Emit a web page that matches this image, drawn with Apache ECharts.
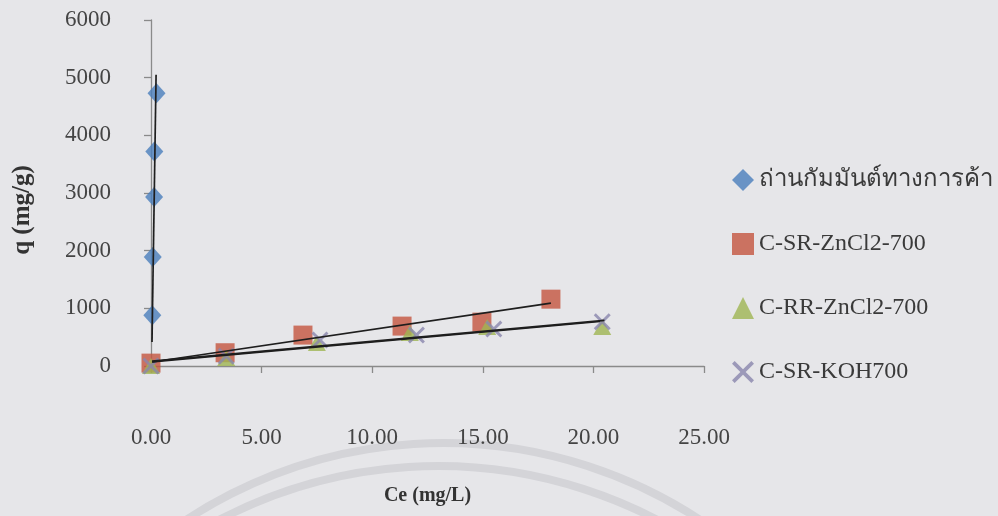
<!DOCTYPE html>
<html>
<head>
<meta charset="utf-8">
<script src="https://cdn.jsdelivr.net/npm/echarts@6/dist/echarts.min.js"></script>
<style>
html,body{margin:0;padding:0;background:#e6e6e9;}
#chart{width:998px;height:516px;}
</style>
</head>
<body>
<div id="chart"></div>
<script>
// ---- data ----
const seriesNames = ['ถ่านกัมมันต์ทางการค้า', 'C-SR-ZnCl2-700', 'C-RR-ZnCl2-700', 'C-SR-KOH700'];
const xTicks = [0, 5, 10, 15, 20, 25];
const yTicks = [0, 1000, 2000, 3000, 4000, 5000, 6000];

const commercialCe = [0.06, 0.08, 0.14, 0.15, 0.25];
const commercialQ  = [880, 1890, 2930, 3720, 4730];

const srZnCe = [0.0, 3.35, 6.87, 11.35, 14.96, 18.08];
const srZnQ  = [50, 230, 536, 692, 761, 1159];

const rrZnCe = [0.0, 3.4, 7.5, 11.7, 15.2, 20.4];
const rrZnQ  = [0, 140, 400, 571, 675, 675];

const srKohCe = [0.0, 3.4, 7.64, 12.0, 15.5, 20.4];
const srKohQ  = [0, 170, 450, 536, 640, 766];

// linear trendline endpoints [Ce, q]
const commercialTrend = [[0.045, 415], [0.23, 5050]];
const srZnTrend  = [[0.05, 69], [18.08, 1090]];
const rrZnTrend  = [[0.05, 72], [20.3, 772]];
const srKohTrend = [[0.05, 86], [20.5, 792]];

// ---- chart ----
const zip = (xs, ys) => xs.map((x, i) => [x, ys[i]]);
const serif = "'Liberation Serif', 'Times New Roman', 'DejaVu Serif', serif";
const xMark = 'path://M0,1.2 L1.2,0 L5,3.8 L8.8,0 L10,1.2 L6.2,5 L10,8.8 L8.8,10 L5,6.2 L1.2,10 L0,8.8 L3.8,5 Z';
const colors = ['#4a7ebb', '#c4553f', '#9fb552', '#8a86ad'];

const chart = echarts.init(document.getElementById('chart'), null, {renderer: 'canvas'});

function trend(data) {
  return {
    type: 'line', data: data, symbol: 'none', silent: true, z: 5,
    lineStyle: {color: '#1e1e1e', width: 1.7}, legendHoverLink: false,
    tooltip: {show: false}
  };
}

chart.setOption({
  backgroundColor: '#e6e6e9',
  animation: false,
  textStyle: {fontFamily: serif},
  graphic: [
    {type: 'arc', silent: true, z: -10,
     shape: {cx: 443, cy: 910, r: 467, startAngle: Math.PI * 1.1, endAngle: Math.PI * 1.9},
     style: {stroke: '#d4d4d8', lineWidth: 8, fill: null}},
    {type: 'arc', silent: true, z: -10,
     shape: {cx: 438, cy: 938, r: 472, startAngle: Math.PI * 1.1, endAngle: Math.PI * 1.9},
     style: {stroke: '#d4d4d8', lineWidth: 8, fill: null}}
  ],
  grid: {left: 151, right: 294, top: 20, bottom: 150, containLabel: false},
  legend: {
    orient: 'vertical', left: 727, top: 163, itemGap: 40,
    itemWidth: 22, itemHeight: 22, itemTextGap: 11,
    textStyle: {fontFamily: serif, fontSize: 24, color: '#3a3a3a'},
    data: seriesNames.map((n, i) => ({name: n}))
  },
  xAxis: {
    type: 'value', min: xTicks[0], max: xTicks[xTicks.length - 1], interval: 5,
    name: 'Ce (mg/L)', nameLocation: 'middle', nameGap: 120,
    nameTextStyle: {fontFamily: serif, fontSize: 20, fontWeight: 'bold', color: '#333'},
    axisLine: {show: true, lineStyle: {color: '#8a8a8a', width: 1.3}},
    axisTick: {show: true, length: 7, lineStyle: {color: '#8a8a8a', width: 1.3}},
    axisLabel: {margin: 60, fontFamily: serif, fontSize: 23, color: '#444',
      formatter: v => v.toFixed(2)},
    splitLine: {show: false}
  },
  yAxis: {
    type: 'value', min: yTicks[0], max: yTicks[yTicks.length - 1], interval: 1000,
    name: 'q (mg/g)', nameLocation: 'middle', nameGap: 116, nameRotate: 90,
    nameTextStyle: {fontFamily: serif, fontSize: 25, fontWeight: 'bold', color: '#333',
      padding: [0, 34, 0, 0]},
    axisLine: {show: true, lineStyle: {color: '#8a8a8a', width: 1.3}},
    axisTick: {show: true, length: 7, lineStyle: {color: '#8a8a8a', width: 1.3}},
    axisLabel: {margin: 40, fontFamily: serif, fontSize: 23, color: '#444',
      formatter: v => String(v)},
    splitLine: {show: false}
  },
  series: [
    {name: seriesNames[0], type: 'scatter', data: zip(commercialCe, commercialQ),
     symbol: 'diamond', symbolSize: [18, 20], itemStyle: {color: colors[0]}, z: 2},
    {name: seriesNames[1], type: 'scatter', data: zip(srZnCe, srZnQ),
     symbol: 'rect', symbolSize: 19, itemStyle: {color: colors[1]}, z: 2},
    {name: seriesNames[2], type: 'scatter', data: zip(rrZnCe, rrZnQ),
     symbol: 'triangle', symbolSize: [18, 16], itemStyle: {color: colors[2]}, z: 3},
    {name: seriesNames[3], type: 'scatter', data: zip(srKohCe, srKohQ),
     symbol: xMark, symbolSize: 17, itemStyle: {color: colors[3]}, z: 4},
    trend(commercialTrend),
    trend(srZnTrend),
    trend(rrZnTrend),
    trend(srKohTrend)
  ]
});
</script>
</body>
</html>
